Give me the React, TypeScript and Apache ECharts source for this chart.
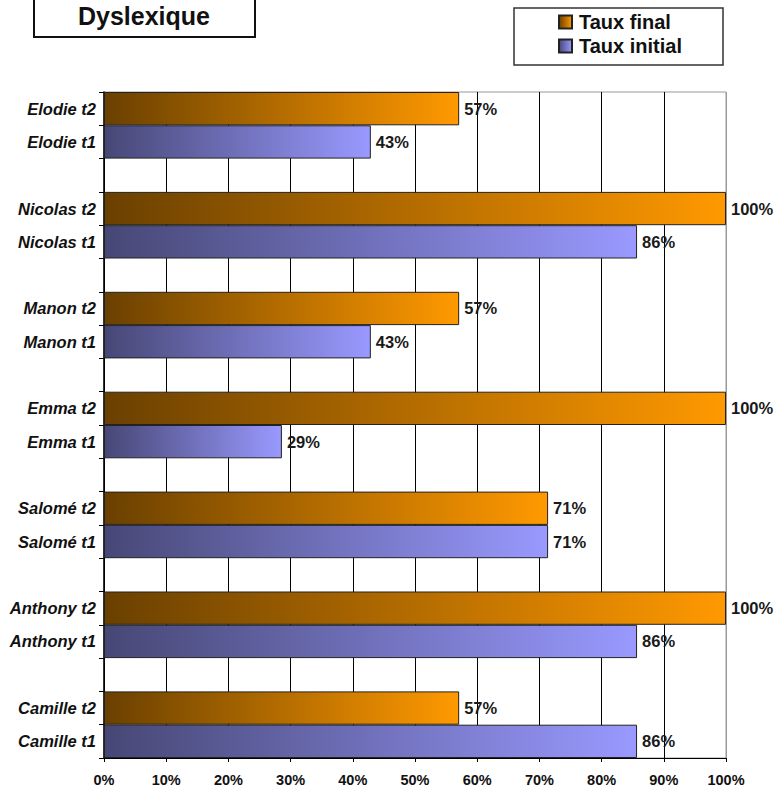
import React, { useEffect, useRef } from "react";
import * as echarts from "echarts";

const categories = [
  "Elodie t2", "Elodie t1", "",
  "Nicolas t2", "Nicolas t1", "",
  "Manon t2", "Manon t1", "",
  "Emma t2", "Emma t1", "",
  "Salomé t2", "Salomé t1", "",
  "Anthony t2", "Anthony t1", "",
  "Camille t2", "Camille t1",
];
const tauxFinal: (number | string)[] = [
  57.1, "-", "-",
  100, "-", "-",
  57.1, "-", "-",
  100, "-", "-",
  71.4, "-", "-",
  100, "-", "-",
  57.1, "-",
];
const tauxInitial: (number | string)[] = [
  "-", 42.9, "-",
  "-", 85.7, "-",
  "-", 42.9, "-",
  "-", 28.6, "-",
  "-", 71.4, "-",
  "-", 85.7, "-",
  "-", 85.7,
];
const seriesNames = ["Taux final", "Taux initial"];
const titleText = "Dyslexique";

const FONT = "'Liberation Sans', Arial, sans-serif";

export default function App() {
  const ref = useRef<HTMLDivElement>(null);
  useEffect(() => {
    if (!ref.current) return;
    const chart = echarts.init(ref.current, null, { renderer: "svg" });
    const orange = new echarts.graphic.LinearGradient(0, 0, 1, 0, [
      { offset: 0, color: "#6a4000" },
      { offset: 1, color: "#ff9900" },
    ]);
    const purple = new echarts.graphic.LinearGradient(0, 0, 1, 0, [
      { offset: 0, color: "#474776" },
      { offset: 1, color: "#9999ff" },
    ]);
    const splitColors = ["#000", "#000", "#000", "#000", "#000", "#000", "#000", "#000", "#000", "#000", "#999"];
    const valueLabel = {
      show: true,
      position: "right",
      distance: 5,
      formatter: (p: any) => Math.round(p.value) + "%",
      fontFamily: FONT,
      fontWeight: "bold",
      fontSize: 16.5,
      color: "#1a1a1a",
    };
    chart.setOption({
      animation: false,
      textStyle: { fontFamily: FONT },
      grid: {
        left: 104, right: 53, top: 92, bottom: 31,
        show: true, borderColor: "#999", borderWidth: 1, backgroundColor: "transparent",
      },
      legend: {
        orient: "vertical",
        left: 553,
        top: 7,
        itemGap: 4,
        itemWidth: 13,
        itemHeight: 13,
        icon: "rect",
        textStyle: { fontFamily: FONT, fontWeight: "bold", fontSize: 20, color: "#111", padding: [0, 0, 0, 2] },
        data: seriesNames,
        selectedMode: false,
        z: 10,
      },
      xAxis: {
        type: "value",
        min: 0,
        max: 100,
        interval: 10,
        axisLine: { show: true, lineStyle: { color: "#000", width: 1 } },
        axisTick: { show: true, length: 4, lineStyle: { color: "#000" } },
        axisLabel: {
          formatter: "{value}%",
          fontFamily: FONT,
          fontWeight: "bold",
          fontSize: 14.5,
          color: "#111",
          margin: 14,
        },
        splitLine: { show: true, lineStyle: { color: splitColors, width: 1 } },
      },
      yAxis: {
        type: "category",
        data: categories,
        inverse: true,
        axisLine: { show: true, lineStyle: { color: "#000", width: 1.5 } },
        axisTick: { show: true, length: 5, interval: 0, lineStyle: { color: "#000" } },
        axisLabel: {
          interval: 0,
          fontFamily: FONT,
          fontWeight: "bold",
          fontStyle: "italic",
          fontSize: 16.5,
          color: "#111",
          margin: 8,
        },
        splitLine: { show: false },
      },
      series: [
        {
          name: seriesNames[0],
          type: "bar",
          data: tauxFinal,
          barCategoryGap: "0%",
          barGap: "-100%",
          itemStyle: { color: orange, borderColor: "#222", borderWidth: 1 },
          label: valueLabel,
        },
        {
          name: seriesNames[1],
          type: "bar",
          data: tauxInitial,
          barCategoryGap: "0%",
          barGap: "-100%",
          itemStyle: { color: purple, borderColor: "#222", borderWidth: 1 },
          label: valueLabel,
        },
      ],
      graphic: [
        {
          type: "rect",
          shape: { x: 34, y: -5, width: 221, height: 42 },
          style: { fill: "#fff", stroke: "#111", lineWidth: 2 },
        },
        {
          type: "text",
          x: 144,
          y: 3,
          style: {
            text: titleText,
            fontFamily: FONT,
            fontWeight: "bold",
            fontSize: 25,
            fill: "#111",
            align: "center",
            verticalAlign: "top",
          },
        },
        {
          type: "rect",
          z: 1,
          shape: { x: 514, y: 8, width: 209, height: 57 },
          style: { fill: "#fff", stroke: "#333", lineWidth: 1.5 },
        },
      ],
    });
    return () => chart.dispose();
  }, []);
  return (
    <div
      ref={ref}
      style={{ position: "absolute", left: 0, top: 0, width: 779, height: 789, background: "#fff" }}
    />
  );
}
